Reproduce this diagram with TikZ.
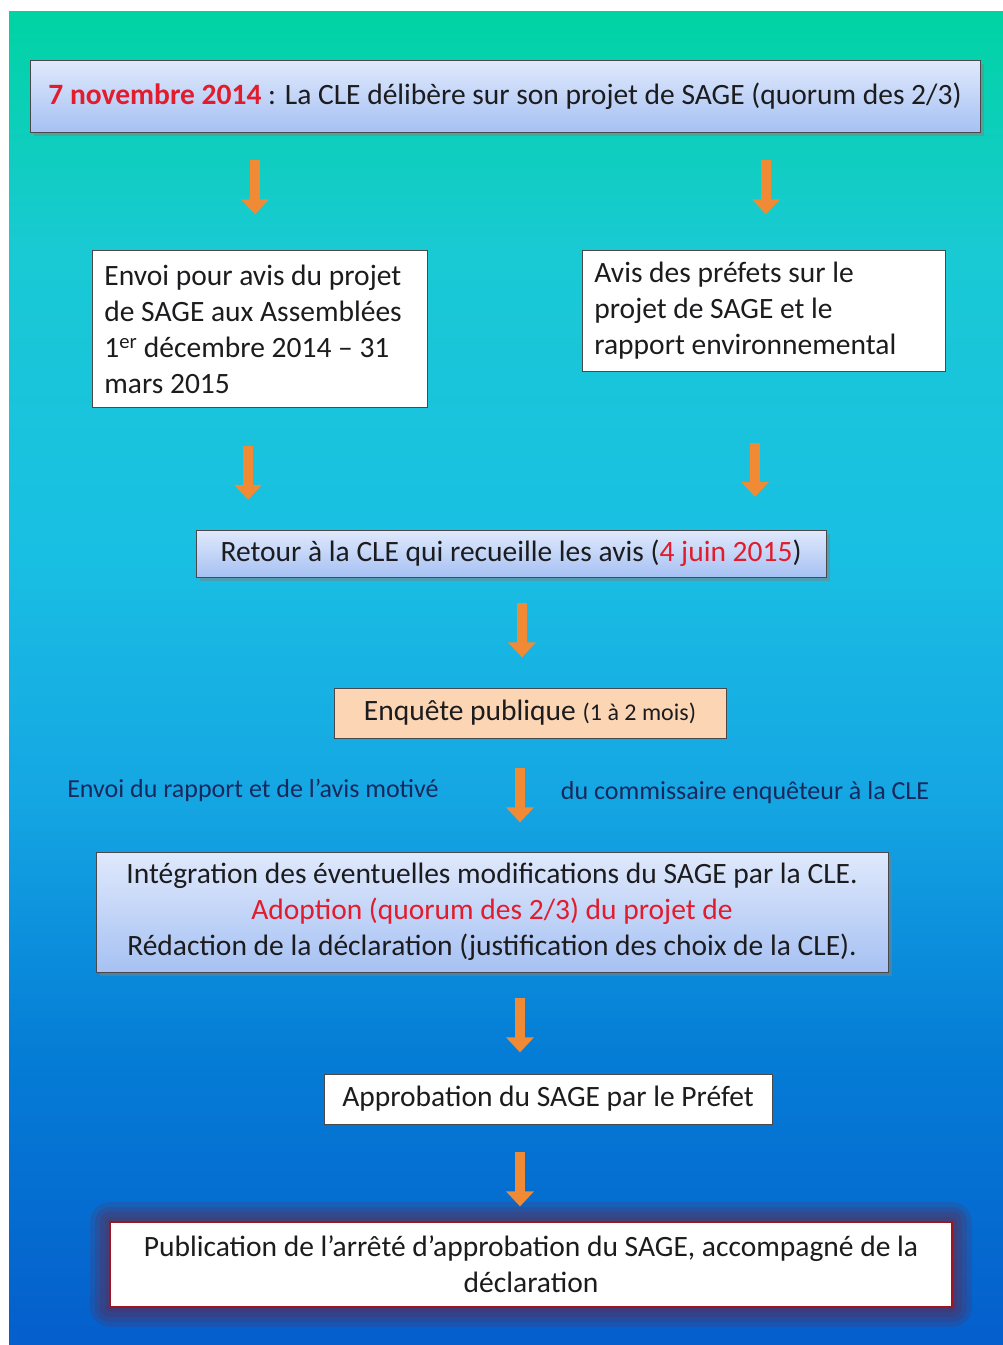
\documentclass[tikz,border=0pt]{standalone}
\usepackage{fontspec}
\setmainfont{Carlito}
\usetikzlibrary{shadows}
\usetikzlibrary{calc}
\usetikzlibrary{arrows.meta}
\usetikzlibrary{positioning}

\definecolor{rougedate}{RGB}{226,28,44}
\definecolor{orangefleche}{RGB}{240,138,52}
\definecolor{encre}{RGB}{28,28,30}
\definecolor{marine}{RGB}{26,40,92}
\definecolor{bleuclair}{RGB}{224,233,252}
\definecolor{bleuboite}{RGB}{166,193,243}
\definecolor{peche}{RGB}{252,214,180}

% fond : du vert d'eau (haut) au bleu (bas)
\pgfdeclareverticalshading{fondsage}{100bp}{
  rgb(0bp)=(0.02,0.37,0.80);
  rgb(25bp)=(0.02,0.37,0.80);
  rgb(36bp)=(0.02,0.49,0.84);
  rgb(45.4bp)=(0.08,0.65,0.89);
  rgb(54.8bp)=(0.10,0.75,0.89);
  rgb(66bp)=(0.10,0.79,0.83);
  rgb(75bp)=(0.00,0.83,0.64);
  rgb(100bp)=(0.00,0.83,0.64)}

\tikzset{
  boite/.style={draw=encre!80, line width=0.8pt, text=encre, inner xsep=14pt, inner ysep=4pt},
  boitebleue/.style={boite, top color=bleuclair, bottom color=bleuboite,
    drop shadow={shadow xshift=4pt, shadow yshift=-4pt, opacity=0.5}},
  boiteblanche/.style={boite, fill=white},
  halo/.style={preaction={draw=rougedate!60!black, line join=round, line width=#1, opacity=0.14}},
  fleche/.style={draw=orangefleche, line width=10pt, -{Triangle[width=27pt,length=15pt]}},
  legende/.style={text=marine, font=\fontsize{26}{30}\selectfont}
}

\begin{document}
\begin{tikzpicture}[x=1pt, y=1pt, font=\fontsize{29.5}{36}\selectfont]
    \useasboundingbox (0,0) rectangle (1003,-1345);
    \fill[white] (0,0) rectangle (1003,-1345);
    % fond degrade
    \shade[shading=fondsage] (9,-11) rectangle (1003,-1345);

    % deliberation
    \node[boitebleue, minimum width=950, minimum height=72] (titre) at (505,-96)
      {{\color{rougedate}\bfseries 7 novembre 2014} : La CLE délibère sur son projet de SAGE (quorum des 2/3)};

    % les deux consultations
    \node[boiteblanche, anchor=north west, inner xsep=12pt, text width=311, minimum height=157, align=flush left] (envoi) at (92,-250)
      {Envoi pour avis du projet\\ de SAGE aux Assemblées\\ 1\textsuperscript{er} décembre 2014 -- 31\\ mars 2015};
    \node[boiteblanche, anchor=north west, inner xsep=12pt, text width=339, minimum height=121, align=flush left] (avis) at (582,-250)
      {Avis des préfets sur le\\ projet de SAGE et le\\ rapport environnemental};

    % retour
    \node[boitebleue, minimum width=630, minimum height=47] (retour) at (511,-553.5)
      {Retour à la CLE qui recueille les avis ({\color{rougedate}4 juin 2015})};

    % enquete
    \node[boite, fill=peche, minimum width=392, minimum height=50] (enquete) at (530,-713)
      {Enquête publique {\fontsize{24}{28}\selectfont(1 à 2 mois)}};
    \node[legende] (rapport) at (253,-790) {Envoi du rapport et de l’avis motivé};
    \node[legende] (commissaire) at (745,-793) {du commissaire enquêteur à la CLE};

    % integration
    \node[boitebleue, minimum width=792, minimum height=120, align=center] (integ) at (492,-912)
      {Intégration des éventuelles modifications du SAGE par la CLE.\\
       {\color{rougedate}Adoption (quorum des 2/3) du projet de}\\
       Rédaction de la déclaration (justification des choix de la CLE).};

    % approbation
    \node[boiteblanche, minimum width=448, minimum height=50] (approb) at (548,-1099)
      {Approbation du SAGE par le Préfet};

    % publication
    \node[boite, fill=white, draw=rougedate!70!black, line width=1.6pt,
      halo=40pt, halo=30pt, halo=20pt, halo=10pt,
      minimum width=842, minimum height=85, align=center] (pub) at (531,-1264.5)
      {Publication de l’arrêté d’approbation du SAGE, accompagné de la\\ déclaration};

    % fleches
    \foreach \noeud/\px/\ecart in {titre/255/28, titre/766/28, envoi/248/38, avis/755/71,
                                   retour/522/26, enquete/520/30, integ/520/26, approb/520/28}
      \draw[fleche] ($(\noeud.south -| \px,0)+(0,-\ecart)$) -- ++(0,-54);
\end{tikzpicture}
\end{document}
